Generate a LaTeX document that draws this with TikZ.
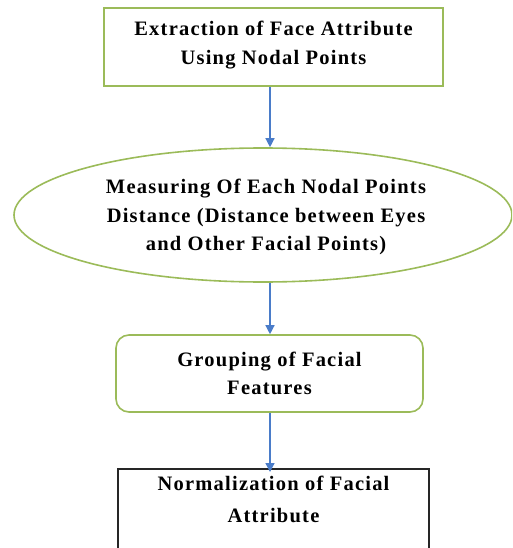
\documentclass[tikz,border=0pt]{standalone}
\usepackage{fontspec}
\setmainfont{Liberation Serif}[LetterSpace=6]
\usetikzlibrary{arrows.meta,shapes.geometric,positioning}

\definecolor{boxgreen}{HTML}{9BBB59}
\definecolor{arrowblue}{HTML}{4A7CC9}

\tikzset{
  x=1pt, y=-1pt,
  label text/.style={font=\bfseries\fontsize{20.5}{28.5}\selectfont, align=center, text=black},
  greenbox/.style={draw=boxgreen, line width=1.8pt, rectangle, inner sep=0pt},
  greenoval/.style={draw=boxgreen, line width=1.6pt, ellipse, inner sep=0pt},
  greenround/.style={draw=boxgreen, line width=1.6pt, rectangle, rounded corners=13pt, inner sep=0pt},
  blackbox/.style={draw=black!85, line width=1.6pt, rectangle, inner sep=0pt},
  flow/.style={draw=arrowblue, line width=1.3pt, -{Triangle[length=9pt,width=9pt]}},
}

\begin{document}
\begin{tikzpicture}
  \useasboundingbox (0,0) rectangle (512,548);
  \clip (0,0) rectangle (512,548);

  % process steps
  \node[greenbox, minimum width=339pt, minimum height=78pt] (extract) at (273.5,47) {};
  \node[label text] (extracttext) at (273.5,45)
    {Extraction of Face Attribute\\Using Nodal Points};
  \node[greenoval, minimum width=498pt, minimum height=134pt] (measure) at (263,215) {};
  \node[label text] (measuretext) at (266,217)
    {Measuring Of Each Nodal Points\\Distance (Distance between Eyes\\and Other Facial Points)};
  \node[greenround, label text, minimum width=307pt, minimum height=77pt] (group) at (269.5,373.5)
    {Grouping of Facial\\Features};
  % last box runs past the lower edge
  \node[blackbox, minimum width=311pt, minimum height=120pt, anchor=north] (norm) at (273.5,468) {};
  \node[label text, font=\bfseries\fontsize{20.5}{32}\selectfont, anchor=north] (normtext) at ([yshift=-5pt]norm.north)
    {Normalization of Facial\\Attribute};

  % vertical flow line
  \coordinate (axis) at (270,0);
  \draw[flow] (extract.south -| axis) -- (measure.north -| axis);
  \draw[flow] (measure.south -| axis) -- (group.north -| axis);
  \draw[flow] (group.south -| axis) -- ([yshift=-4pt]norm.north -| axis);
\end{tikzpicture}
\end{document}
